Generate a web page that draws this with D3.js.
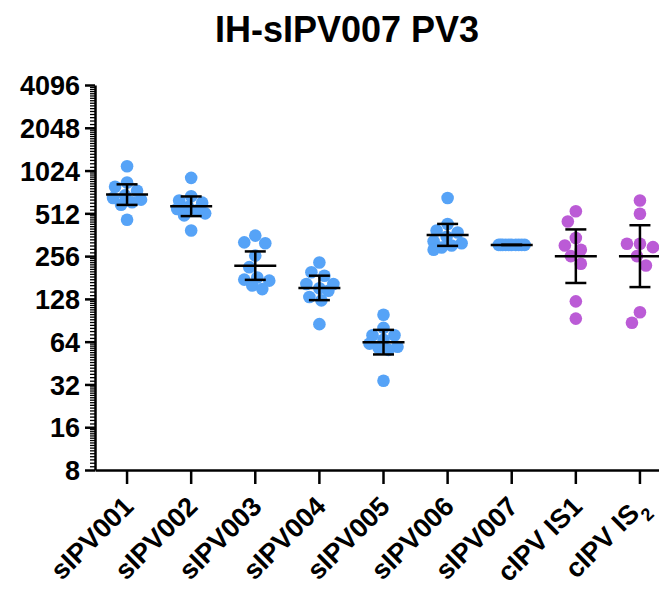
<!DOCTYPE html>
<html>
<head>
<meta charset="utf-8">
<script src="https://cdn.jsdelivr.net/npm/d3@7"></script>
<style>
    body { margin: 0; background: #fff; }
    text { font-family: Arial, "Liberation Sans", sans-serif; font-weight: bold; fill: #000; }
</style>
</head>
<body>
<div id="chart"></div>
<script>
const groups = ["sIPV001", "sIPV002", "sIPV003", "sIPV004", "sIPV005", "sIPV006", "sIPV007", "cIPV IS1", "cIPV IS2"];

const sipv001 = [1098, 843, 787, 739, 685, 657, 639, 613, 588, 461];
const sipv002 = [910, 676, 630, 609, 568, 549, 537, 512, 495, 388];
const sipv003 = [357, 320, 315, 258, 214, 181, 175, 172, 159, 150];
const sipv004 = [231, 197, 186, 163, 163, 152, 146, 132, 125, 85];
const sipv005 = [99, 80, 71, 71, 66, 62, 59, 58, 56, 34];
const sipv006 = [657, 431, 388, 375, 350, 326, 315, 304, 294, 284];
const sipv007 = [307, 307, 307, 307, 307, 307, 307, 307, 307, 307];
const cipvIS1 = [530, 449, 343, 304, 284, 256, 226, 123, 93];
const cipvIS2 = [630, 509, 313, 313, 296, 256, 220, 103, 87];

const titers = [sipv001, sipv002, sipv003, sipv004, sipv005, sipv006, sipv007, cipvIS1, cipvIS2];
const yTicks = [8, 16, 32, 64, 128, 256, 512, 1024, 2048, 4096];

const blue = "#56a3f7";
const purple = "#bb5bd6";
const groupColors = [blue, blue, blue, blue, blue, blue, blue, purple, purple];

const width = 659;
const height = 599;
const plot = { left: 95, right: 672, top: 85, bottom: 470 };

const svg = d3.select("#chart")
    .append("svg")
    .attr("width", width)
    .attr("height", height);

const x = d3.scaleBand()
    .domain(groups)
    .range([plot.left, plot.right]);

const y = d3.scaleLog()
    .base(2)
    .domain([8, 4096])
    .range([plot.bottom, plot.top]);

// t critical values (95%, two sided) by degrees of freedom
const tCrit = [NaN, 12.706, 4.303, 3.182, 2.776, 2.571, 2.447, 2.365, 2.306, 2.262, 2.228];

function geoStats(vals) {
    const logs = vals.map(Math.log2);
    const m = d3.mean(logs);
    const sd = d3.deviation(logs) || 0;
    const half = tCrit[logs.length - 1] * sd / Math.sqrt(logs.length);
    return { mean: 2 ** m, lo: 2 ** (m - half), hi: 2 ** (m + half) };
}

// simple beeswarm: nearest free offset, else the least crowded one
function swarm(vals, cx, r, maxOff) {
    const placed = [];
    vals.forEach(v => {
        const cy = y(v);
        let best = 0, bestDist = -1;
        for (let off = 0; off <= maxOff; off++) {
            const cands = off === 0 ? [0] : [-off, off];
            let found = false;
            for (const s of cands) {
                const d = placed.length
                    ? d3.min(placed, p => Math.hypot(p.x - (cx + s), p.y - cy))
                    : Infinity;
                if (d >= 2 * r) { best = s; found = true; break; }
                if (d > bestDist) { bestDist = d; best = s; }
            }
            if (found) break;
        }
        placed.push({ x: cx + best, y: cy, v: v });
    });
    return placed;
}

// title
svg.append("text")
    .attr("x", 347)
    .attr("y", 42)
    .attr("text-anchor", "middle")
    .style("font-size", "36px")
    .text("IH-sIPV007 PV3");

// y axis, minor ticks first
const minorTicks = [];
yTicks.slice(0, -1).forEach(t => {
    for (let j = 1; j < 16; j++) minorTicks.push(t * (1 + j / 16));
});

svg.append("g")
    .attr("transform", `translate(${plot.left},0)`)
    .call(d3.axisLeft(y).tickValues(minorTicks).tickSize(5).tickFormat(""))
    .call(g => g.select(".domain").remove())
    .call(g => g.selectAll("line").attr("stroke-width", 1.3));

svg.append("g")
    .attr("transform", `translate(${plot.left},0)`)
    .call(d3.axisLeft(y).tickValues(yTicks).tickSize(10).tickSizeOuter(0).tickFormat(d3.format("d")))
    .call(g => g.select(".domain").attr("stroke-width", 2.5))
    .call(g => g.selectAll("line").attr("stroke-width", 2.5))
    .call(g => g.selectAll("text")
        .attr("x", -15)
        .attr("dy", "0.36em")
        .style("font-size", "27px"));

// x axis
svg.append("g")
    .attr("transform", `translate(0,${plot.bottom})`)
    .call(d3.axisBottom(x).tickSize(14).tickSizeOuter(0).tickFormat(""))
    .call(g => g.select(".domain").attr("stroke-width", 2.5))
    .call(g => g.selectAll("line").attr("stroke-width", 2.5));

const labels = svg.append("g")
    .selectAll("text")
    .data(groups)
    .enter()
    .append("text")
    .attr("text-anchor", "end")
    .attr("transform", d => `translate(${x(d) + x.bandwidth() / 2 + 8},${plot.bottom + 38}) rotate(-45)`)
    .style("font-size", "27px");

labels.each(function (d) {
    const t = d3.select(this);
    if (d === "cIPV IS2") {
        t.append("tspan").text("cIPV IS");
        t.append("tspan").attr("baseline-shift", "sub").style("font-size", "18px").text("2");
    } else {
        t.text(d);
    }
});

// points, geometric mean and 95% CI
const r = 6.3;
titers.forEach((vals, i) => {
    const cx = x(groups[i]) + x.bandwidth() / 2;
    const pts = swarm(vals, cx, r, 14);
    const g = svg.append("g");

    g.selectAll("circle")
        .data(pts)
        .enter()
        .append("circle")
        .attr("cx", d => d.x)
        .attr("cy", d => d.y)
        .attr("r", r)
        .attr("fill", groupColors[i]);

    const s = geoStats(vals);
    const line = (x1, x2, y1, y2) => g.append("line")
        .attr("x1", x1).attr("x2", x2)
        .attr("y1", y1).attr("y2", y2)
        .attr("stroke", "#000")
        .attr("stroke-width", 2.5);
    line(cx, cx, y(s.lo), y(s.hi));
    line(cx - 10.5, cx + 10.5, y(s.lo), y(s.lo));
    line(cx - 10.5, cx + 10.5, y(s.hi), y(s.hi));
    line(cx - 21, cx + 21, y(s.mean), y(s.mean));
});
</script>
</body>
</html>
